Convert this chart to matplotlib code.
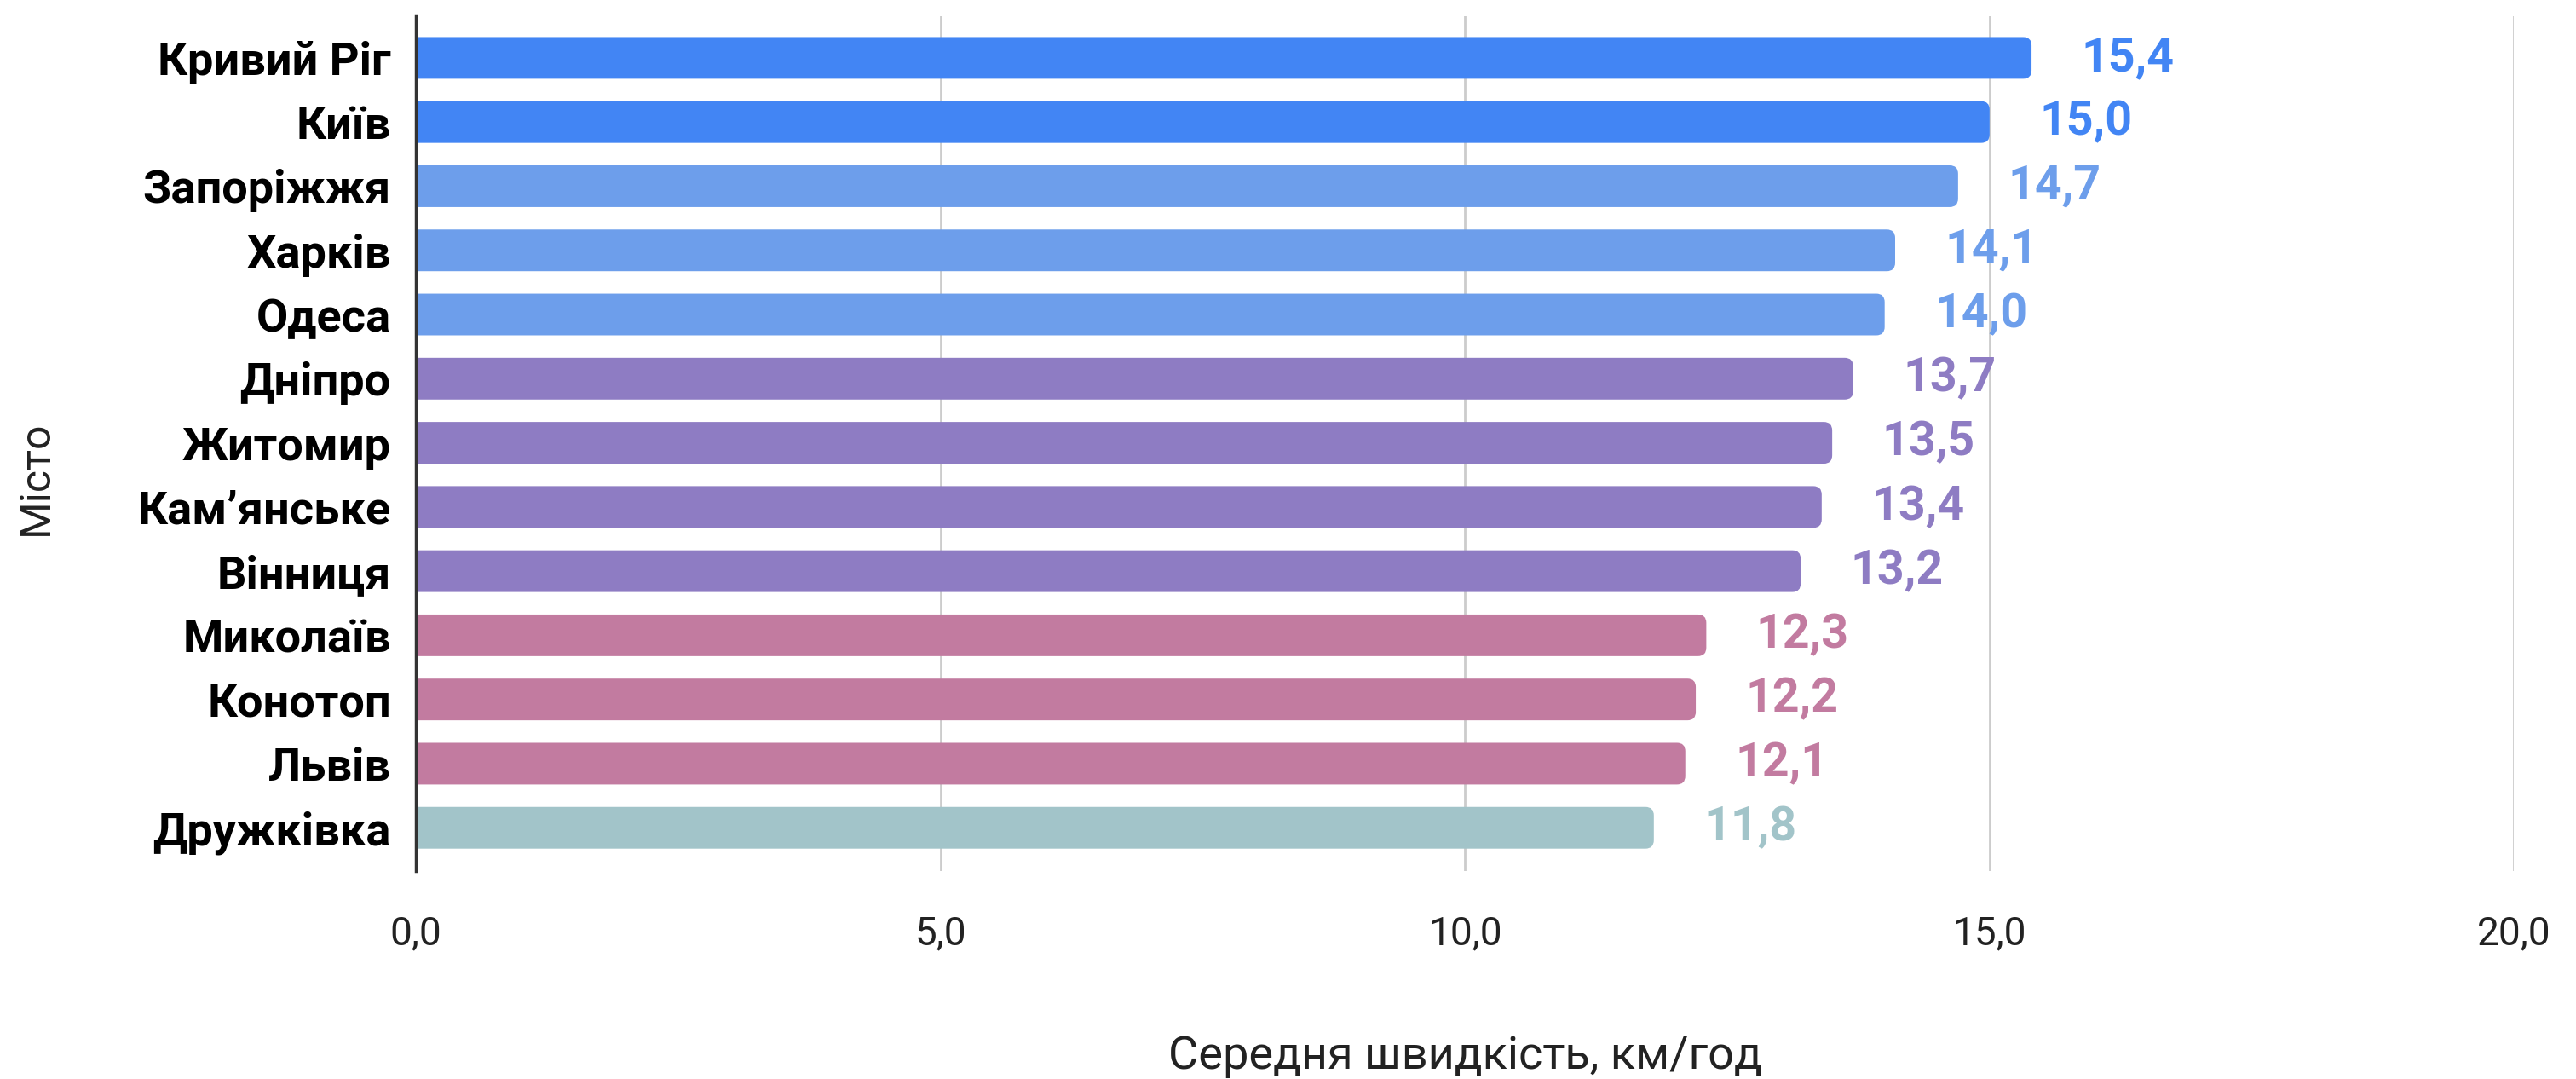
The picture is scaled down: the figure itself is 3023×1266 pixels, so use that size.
import matplotlib
matplotlib.use("Agg")
import matplotlib.pyplot as plt
from matplotlib.patches import FancyBboxPatch
from matplotlib.ticker import FuncFormatter

# data
cities = ["Кривий Ріг", "Київ", "Запоріжжя", "Харків", "Одеса", "Дніпро", "Житомир",
          "Кам’янське", "Вінниця", "Миколаїв", "Конотоп", "Львів", "Дружківка"]
speeds = [15.4, 15.0, 14.7, 14.1, 14.0, 13.7, 13.5, 13.4, 13.2, 12.3, 12.2, 12.1, 11.8]
bar_colors = ["#4285f4", "#4285f4", "#6d9eeb", "#6d9eeb", "#6d9eeb", "#8e7cc3", "#8e7cc3",
              "#8e7cc3", "#8e7cc3", "#c27ba0", "#c27ba0", "#c27ba0", "#a2c4c9"]
x_ticks = [0, 5, 10, 15, 20]

plt.rcParams['font.family'] = ['Roboto', 'DejaVu Sans']

fig = plt.figure(figsize=(30.23, 12.66), dpi=100)
ax = fig.add_axes([0.1614, 0.193, 0.8146, 0.792])

pos = list(range(len(cities)))
bars = ax.barh(pos, speeds, height=0.65, color=bar_colors, zorder=3)

# swap plain rectangles for ones with rounded ends
for b in bars:
    x0, y0 = b.get_x(), b.get_y()
    w, h = b.get_width(), b.get_height()
    rounded = FancyBboxPatch((x0 - 0.3, y0), w + 0.3, h,
                             boxstyle="round,pad=0,rounding_size=0.08",
                             mutation_aspect=1.65, facecolor=b.get_facecolor(),
                             edgecolor="none", zorder=3)
    b.remove()
    ax.add_patch(rounded)

for p, v, c in zip(pos, speeds, bar_colors):
    ax.annotate(f"{v:.1f}".replace(".", ","), xy=(v, p), xytext=(42, 0),
                textcoords="offset points", ha="left", va="center",
                fontsize=40, fontweight="bold", color=c)

ax.set_xlim(0, 20)
ax.set_ylim(len(cities) - 0.33, -0.65)
ax.set_xticks(x_ticks)
ax.xaxis.set_major_formatter(FuncFormatter(lambda v, _: f"{v:.1f}".replace(".", ",")))
ax.set_yticks(pos)
ax.set_yticklabels(cities, fontsize=39, fontweight="bold", color="#000000")
ax.tick_params(axis="x", length=0, pad=37, labelsize=33, labelcolor="#222222")
ax.tick_params(axis="y", length=0, pad=21)

ax.grid(axis="x", color="#cccccc", linewidth=2, zorder=0)
for s in ["top", "right", "bottom"]:
    ax.spines[s].set_visible(False)
ax.spines["left"].set_color("#333333")
ax.spines["left"].set_linewidth(2.5)
ax.spines["left"].set_zorder(4)

ax.set_xlabel("Середня швидкість, км/год", fontsize=39, color="#222222", labelpad=70)
ax.set_ylabel("Місто", fontsize=36, color="#222222", va="center")
ax.yaxis.set_label_coords(-0.181, 0.46)

fig.savefig("out.png", dpi=100, facecolor="white")
